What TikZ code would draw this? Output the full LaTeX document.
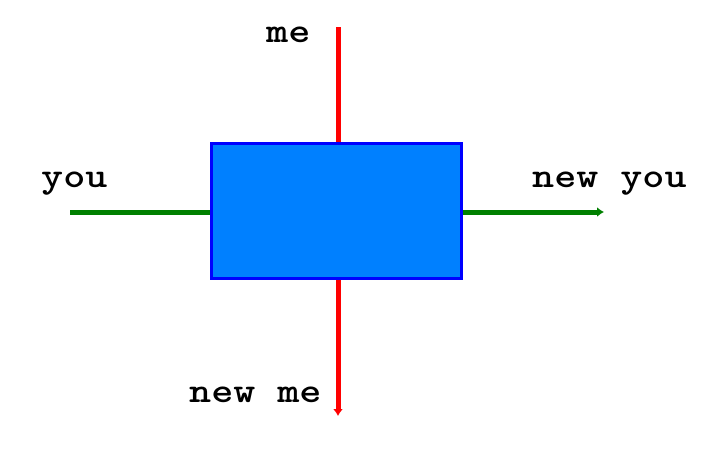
\documentclass[tikz,border=0pt]{standalone}
\usepackage{fontspec}
\usetikzlibrary{arrows.meta}
\definecolor{boxfill}{RGB}{0,128,255}
\definecolor{boxline}{RGB}{0,0,255}
\definecolor{gline}{RGB}{0,128,0}
\definecolor{rline}{RGB}{255,0,0}
\newcommand{\lbltext}[1]{\scalebox{1.2}[1]{#1}}
\tikzset{
  lbl/.style={font=\ttfamily\bfseries\fontsize{35}{35}\selectfont, inner sep=0pt, anchor=base west},
  gwire/.style={draw=gline, line width=5pt},
  rwire/.style={draw=rline, line width=5pt},
  tip/.style={-{Latex[length=7pt,width=10pt]}}
}
\begin{document}
\begin{tikzpicture}[x=1pt,y=-1pt]
\useasboundingbox (0,0) rectangle (720,450);
\node[draw=boxline, fill=boxfill, line width=3pt, minimum width=250pt, minimum height=135pt, inner sep=0pt] (box) at (336,210.5) {};
\coordinate (youin) at (70,212);
\coordinate (youout) at (604,212);
\coordinate (mein) at (338,27);
\coordinate (meout) at (338,416);
\draw[gwire] (youin) -- (youin -| box.west);
\draw[gwire, tip] (youout -| box.east) -- (youout);
\draw[rwire] (mein) -- (mein |- box.north);
\draw[rwire, tip] (meout |- box.south) -- (meout);
\node[lbl] (me) at (266,42) {\lbltext{me}};
\node[lbl] (you) at (41,187) {\lbltext{you}};
\node[lbl] (newyou) at (532,187) {\lbltext{new you}};
\node[lbl] (newme) at (189,402) {\lbltext{new me}};
\end{tikzpicture}
\end{document}
